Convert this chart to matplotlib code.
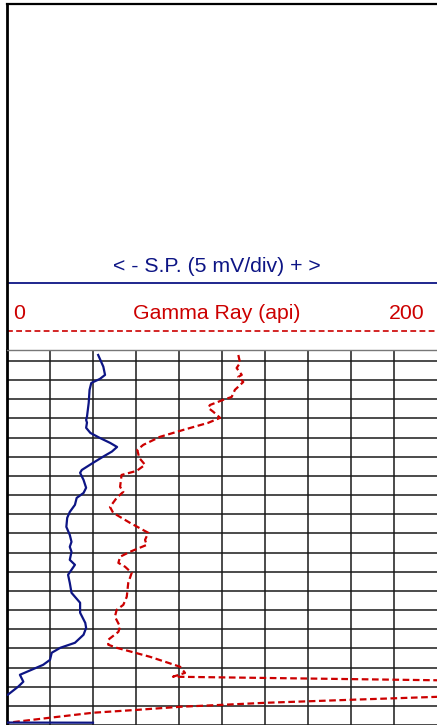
import matplotlib
matplotlib.use('Agg')
from matplotlib import pyplot as plt
import numpy as np

plt.rcParams['font.family'] = ['Liberation Sans', 'DejaVu Sans']

# depth grid (ft), one row every 10 ft
depth_top = 4994.3
depth_bottom = 5190.0
grid_depths = np.arange(5000, 5191, 10)

# gamma ray log (api), 0 - 200 across track
gr_depth = [4996.9, 5001.0, 5003.7, 5007.3, 5008.3, 5011.0, 5015.1, 5018.8, 5020.3, 5023.0,
            5024.5, 5026.6, 5029.7, 5032.3, 5036.0, 5039.6, 5043.8, 5046.4, 5050.6, 5054.2,
            5057.4, 5059.5, 5065.7, 5068.3, 5071.5, 5076.2, 5079.3, 5084.5, 5089.7, 5093.4,
            5096.0, 5099.6, 5102.2, 5105.4, 5107.4, 5110.6, 5115.8, 5123.1, 5127.3, 5129.9,
            5133.5, 5138.7, 5141.4, 5145.5, 5148.1, 5149.7, 5154.4, 5159.6, 5162.8, 5164.8,
            5168.5, 5175.3, 5176.8, 5178.4, 5180.5, 5182.1, 5183.6, 5186.2, 5188.8]
gr_api = [107.6, 108.4, 106.8, 109.2, 107.6, 109.9, 106.0, 104.5, 100.6, 94.4,
          93.6, 96.0, 99.1, 93.6, 82.0, 71.2, 63.4, 60.6, 61.5, 64.2,
          60.3, 53.3, 52.6, 54.1, 51.0, 47.9, 49.4, 57.2, 65.7, 64.2,
          65.0, 57.2, 52.6, 51.8, 54.9, 58.0, 56.4, 55.7, 54.1, 51.0,
          50.2, 52.6, 51.8, 47.1, 47.1, 51.0, 66.5, 80.5, 82.8, 77.2,
          322.0, 200.0, 160.9, 120.5, 80.5, 60.5, 40.0, 20.0, 0.5]

# spontaneous potential (mV), 5 mV per division
sp_depth = [4996.9, 5003.0, 5007.3, 5009.4, 5011.5, 5015.1, 5021.9, 5029.1, 5030.8, 5032.2,
            5034.9, 5037.6, 5040.2, 5042.8, 5044.9, 5047.3, 5049.9, 5053.2, 5056.9, 5058.4,
            5062.1, 5066.2, 5068.9, 5071.5, 5075.1, 5078.8, 5081.9, 5086.6, 5090.8, 5094.4,
            5097.0, 5099.6, 5103.8, 5106.4, 5111.6, 5115.8, 5121.0, 5126.2, 5131.4, 5136.7,
            5139.3, 5142.9, 5147.1, 5149.7, 5152.3, 5156.0, 5158.6, 5163.8, 5167.4, 5170.0,
            5174.2, 5188.6, 5188.8]
sp_mv = [-29.4, -28.8, -28.6, -29.2, -30.2, -30.4, -30.5, -30.7, -30.8, -30.7,
         -30.8, -30.3, -29.2, -28.0, -27.2, -27.8, -28.8, -30.0, -31.3, -31.5,
         -31.1, -30.8, -31.1, -31.9, -32.1, -32.7, -33.0, -33.1, -32.7, -32.5,
         -32.7, -32.5, -32.7, -32.1, -32.9, -32.7, -32.5, -31.5, -31.5, -30.9,
         -30.8, -31.1, -32.1, -33.8, -34.8, -35.0, -35.8, -38.5, -38.1, -38.7,
         -39.9, -58.0, -30.0]

navy = '#0d1585'
red = '#cc0000'

W, H = 437, 725
def frac(x0, y0, x1, y1):
    return [x0 / W, 1 - y1 / H, (x1 - x0) / W, (y1 - y0) / H]

fig = plt.figure(figsize=(W / 100, H / 100), dpi=100)

# header
hx = fig.add_axes(frac(7, 4, 437, 350))
hx.set_xlim(7, 437)
hx.set_ylim(350, 4)
hx.set_xticks([])
hx.set_yticks([])
for s in ['right', 'bottom']:
    hx.spines[s].set_visible(False)
hx.spines['top'].set_linewidth(1.6)
hx.spines['left'].set_linewidth(2.0)
hx.axhline(283, color=navy, lw=1.3)
hx.axhline(331, color=red, lw=1.2, dashes=(3.5, 2))
hx.text(217, 266, '< - S.P. (5 mV/div) + >', color=navy, fontsize=15.3, ha='center', va='center')
hx.text(217, 313, 'Gamma Ray (api)', color=red, fontsize=15.3, ha='center', va='center')
hx.text(13, 313, '0', color=red, fontsize=15.3, ha='left', va='center')
hx.text(425, 313, '200', color=red, fontsize=15.3, ha='right', va='center')

# track
ax = fig.add_axes(frac(7, 350, 437, 725))
ax.set_xlim(0, 200)
ax.set_ylim(depth_bottom, depth_top)
ax.set_xticks(np.arange(20, 200, 20))
ax.set_yticks(grid_depths)
ax.tick_params(length=0, labelleft=False, labelbottom=False)
ax.grid(True, color='#1a1a1a', lw=1.1)
for s in ['right', 'bottom']:
    ax.spines[s].set_visible(False)
ax.spines['top'].set_color('#777777')
ax.spines['top'].set_linewidth(1.0)
ax.spines['left'].set_linewidth(2.0)

ax.plot(gr_api, gr_depth, color=red, lw=1.6, dashes=(3, 1.6))

sx = ax.twiny()
sx.set_xlim(-40, 10)
sx.set_ylim(depth_bottom, depth_top)
sx.axis('off')
sx.plot(sp_mv, sp_depth, color=navy, lw=1.6, solid_joinstyle='round')

fig.savefig('out.png', dpi=100)
